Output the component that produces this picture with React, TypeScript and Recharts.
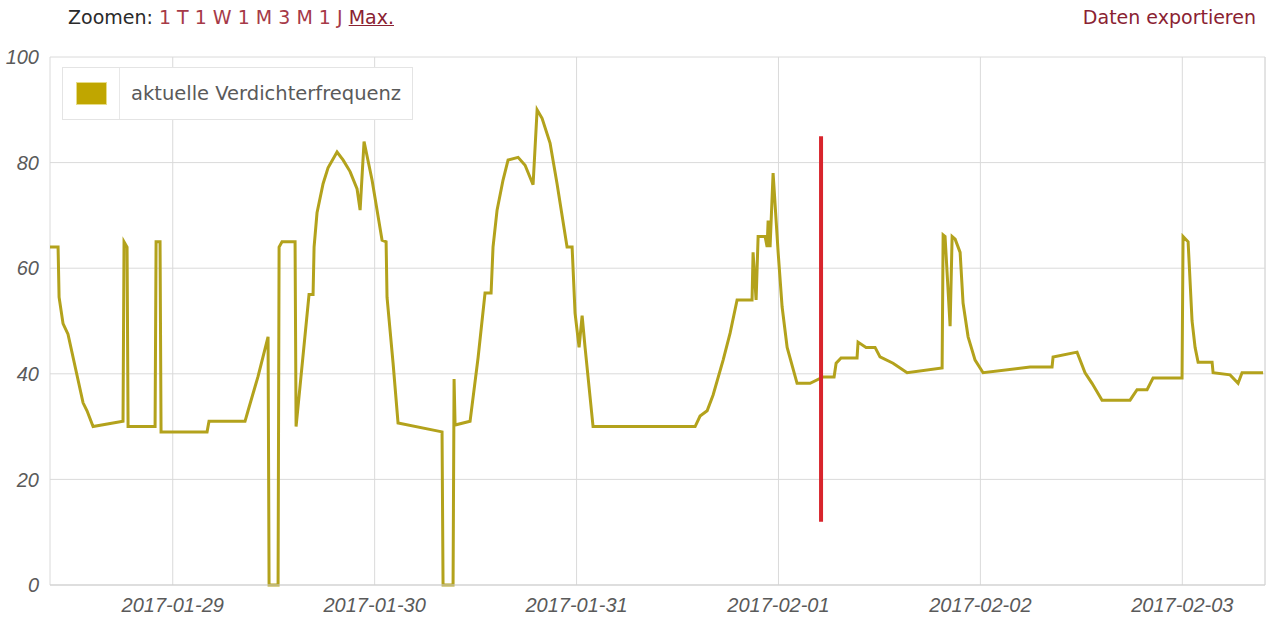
import React from 'react';
import { LineChart, Line, XAxis, YAxis, CartesianGrid, Legend, ReferenceLine } from 'recharts';

// hours since 2017-01-28 00:00
const hours = [
  9.41, 10.37, 10.49, 10.96, 11.55, 13.34, 13.81, 14.53, 18.09, 18.21, 18.57, 18.69, 21.9, 22.02, 22.49, 22.61,
  28.08, 28.31, 32.59, 32.95, 34.14, 35.33, 35.45, 36.52, 36.64, 36.99, 38.54, 38.66, 40.2, 40.68, 40.8, 41.15,
  41.87, 42.46, 43.53, 44.24, 45.08, 45.91, 46.27, 46.74, 47.69, 48.88, 49.36, 49.47, 50.19, 50.78, 56.01, 56.13,
  57.32, 57.44, 57.56, 59.34, 60.29, 61.12, 61.84, 62.07, 62.55, 63.26, 63.86, 65.05, 65.88, 66.83, 67.31, 67.9,
  68.85, 69.68, 70.87, 71.47, 71.82, 72.3, 72.66, 73.01, 73.96, 86.09, 86.68, 87.52, 88.23, 89.42, 90.25, 91.08,
  92.86, 92.98, 93.34, 93.58, 94.41, 94.65, 94.77, 95.0, 95.36, 95.96, 96.43, 97.03, 98.21, 99.76, 101.3, 102.61,
  102.85, 103.44, 105.34, 105.46, 106.41, 107.48, 108.07, 109.62, 111.29, 115.45, 115.57, 115.8, 116.4, 116.64, 117.0, 117.59,
  117.94, 118.54, 119.37, 120.32, 125.9, 128.52, 128.64, 131.49, 132.44, 133.27, 134.46, 137.79, 138.62, 139.81, 140.52, 143.97,
  144.09, 144.69, 145.16, 145.52, 145.88, 147.54, 147.66, 149.68, 150.63, 151.1, 153.6,
];

const frequency = [
  64, 64, 54.5, 49.5, 47.5, 34.5, 33, 30, 31, 65, 64, 30, 30, 65, 65, 29,
  29, 31, 31, 33, 39.5, 47, 0, 0, 64, 65, 65, 30, 55, 55, 64, 70.5,
  76, 79, 82, 80.5, 78.3, 75, 71, 84, 76.7, 65.3, 65, 54.5, 42, 30.7, 29, 0,
  0, 39, 30.3, 31, 43, 55.3, 55.3, 64, 71, 76.7, 80.5, 81, 79.5, 75.8, 90, 88.4,
  83.7, 76, 64, 64, 51.5, 45, 51, 45, 30, 30, 32, 33, 36, 42.6, 47.7, 54,
  54, 63, 54, 66, 66, 64, 69, 64, 78, 63, 52.7, 45, 38.2, 38.2, 39.4, 39.4,
  42, 43, 43, 46, 45, 45, 43.2, 42, 40.2, 41.1, 66.3, 66, 49, 66, 65.5, 63,
  53.4, 47, 42.6, 40.2, 41.3, 41.3, 43.2, 44.1, 40.2, 38.2, 35, 35, 37, 37, 39.2, 39.2,
  66, 65, 50, 45, 42.2, 42.2, 40.2, 39.8, 38.2, 40.2, 40.2,
];

const tickHours = [24, 48, 72, 96, 120, 144];
const tickLabels = ['2017-01-29', '2017-01-30', '2017-01-31', '2017-02-01', '2017-02-02', '2017-02-03'];
const yTicks = [0, 20, 40, 60, 80, 100];
const xDomain = [9.41, 153.83];
const markerHour = 101.06;
const markerRange = [12, 85];
const seriesName = 'aktuelle Verdichterfrequenz';
const zoomLabels = ['1 T', '1 W', '1 M', '3 M', '1 J'];

const data = hours.map((t, i) => ({ t, v: frequency[i] }));

const LINE_COLOR = '#b3a21c';
const TICK_STYLE = { fill: '#5a5a5a', fontSize: 20, fontStyle: 'italic', fontFamily: '"Liberation Sans", Arial, sans-serif' };

const LegendBox = () => (
  <div
    style={{
      width: 351,
      height: 53,
      border: '1px solid #e4e4e4',
      background: '#fff',
      display: 'flex',
      alignItems: 'stretch',
      boxSizing: 'border-box',
    }}
  >
    <div style={{ width: 56, borderRight: '1px solid #e8e8e8', display: 'flex', alignItems: 'center', justifyContent: 'center' }}>
      <div style={{ width: 31, height: 23, background: '#c0a600', border: '1px solid #e6dc88', boxSizing: 'border-box' }} />
    </div>
    <div
      style={{
        display: 'flex',
        alignItems: 'center',
        paddingLeft: 11,
        fontFamily: '"DejaVu Sans", sans-serif',
        fontSize: 19.5,
        color: '#5a5a5a',
        whiteSpace: 'nowrap',
      }}
    >
      {seriesName}
    </div>
  </div>
);

export default function App() {
  return (
    <div style={{ position: 'absolute', left: 0, top: 0, width: 1280, height: 631, background: '#fff', overflow: 'hidden' }}>
      <div
        style={{
          position: 'absolute',
          left: 68,
          top: 6,
          fontFamily: '"DejaVu Sans", sans-serif',
          fontSize: 19,
          whiteSpace: 'nowrap',
          color: '#2a2a2a',
        }}
      >
        <span>Zoomen: </span>
        {zoomLabels.map((z) => (
          <span key={z} style={{ color: '#a63a48' }}>{z} </span>
        ))}
        <span style={{ color: '#8a2232', textDecoration: 'underline' }}>Max.</span>
      </div>
      <div
        style={{
          position: 'absolute',
          right: 24,
          top: 6,
          fontFamily: '"DejaVu Sans", sans-serif',
          fontSize: 19,
          color: '#8a2232',
          whiteSpace: 'nowrap',
        }}
      >
        Daten exportieren
      </div>
      <div style={{ position: 'absolute', left: 0, top: 0 }}>
        <LineChart width={1280} height={631} data={data} margin={{ top: 57, right: 15, bottom: 16, left: 0 }}>
          <CartesianGrid stroke="#dadada" />
          <XAxis
            dataKey="t"
            type="number"
            domain={xDomain}
            ticks={tickHours}
            allowDataOverflow
            tickFormatter={(h) => tickLabels[tickHours.indexOf(h)] ?? ''}
            tick={TICK_STYLE}
            tickLine={false}
            tickSize={0}
            tickMargin={13}
            axisLine={{ stroke: '#cfcfcf' }}
            height={30}
          />
          <YAxis
            type="number"
            domain={[0, 100]}
            ticks={yTicks}
            width={50}
            tick={TICK_STYLE}
            tickLine={false}
            tickSize={0}
            tickMargin={11}
            axisLine={false}
          />
          <ReferenceLine x={xDomain[1]} stroke="#dadada" />
          <Legend
            layout="horizontal"
            verticalAlign="middle"
            align="center"
            wrapperStyle={{ left: 62, top: 67, width: 351, height: 53 }}
            content={() => <LegendBox />}
          />
          <Line
            type="linear"
            dataKey="v"
            name={seriesName}
            stroke={LINE_COLOR}
            strokeWidth={3}
            dot={false}
            activeDot={false}
            isAnimationActive={false}
          />
          <ReferenceLine
            segment={[
              { x: markerHour, y: markerRange[1] },
              { x: markerHour, y: markerRange[0] },
            ]}
            stroke="#d8242c"
            strokeWidth={4}
          />
        </LineChart>
      </div>
    </div>
  );
}
